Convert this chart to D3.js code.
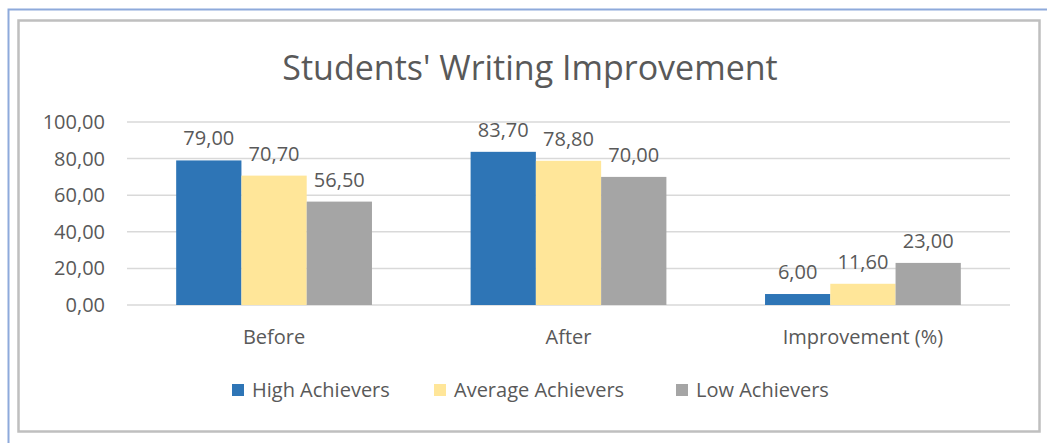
<!DOCTYPE html>
<meta charset="utf-8">
<style>
  body { margin: 0; background: #fff; }
  text { font-family: "Open Sans", sans-serif; fill: #595959; }
  .grid line { stroke: #d9d9d9; stroke-width: 1.5; }
  .axis .domain { display: none; }
  .axis .tick line { display: none; }
</style>
<svg width="1047" height="443"></svg>
<script src="https://d3js.org/d3.v7.min.js"></script>
<script>
  var categories = ["Before", "After", "Improvement (%)"];
  var seriesNames = ["High Achievers", "Average Achievers", "Low Achievers"];
  var highAchievers = [79.0, 83.7, 6.0];
  var averageAchievers = [70.7, 78.8, 11.6];
  var lowAchievers = [56.5, 70.0, 23.0];
  var yTicks = [0, 20, 40, 60, 80, 100];
  var colors = ["#2e75b6", "#ffe699", "#a5a5a5"];

  var series = [highAchievers, averageAchievers, lowAchievers];
  var fmt = function(v) { return v.toFixed(2).replace(".", ","); };

  var svg = d3.select("svg");

  // frames
  svg.append("path")
    .attr("d", "M8.5,443 V9.5 H1047")
    .attr("fill", "none")
    .attr("stroke", "#8eaadb")
    .attr("stroke-width", 2);
  svg.append("rect")
    .attr("x", 18.5).attr("y", 20.5)
    .attr("width", 1021).attr("height", 411)
    .attr("fill", "#fff")
    .attr("stroke", "#bfbfbf")
    .attr("stroke-width", 2.5);

  svg.append("text")
    .attr("x", 530).attr("y", 80)
    .attr("text-anchor", "middle")
    .style("font-size", "34px")
    .text("Students' Writing Improvement");

  var plotL = 127, plotR = 1010, plotT = 122, plotB = 305;

  var x = d3.scaleBand().domain(categories).range([plotL, plotR]).paddingInner(0.335).paddingOuter(0.167);
  var xs = d3.scaleBand().domain(d3.range(3)).range([0, x.bandwidth()]);
  var y = d3.scaleLinear().domain([0, 100]).range([plotB, plotT]);

  svg.append("g").attr("class", "grid")
    .selectAll("line").data(yTicks).join("line")
    .attr("x1", plotL).attr("x2", plotR)
    .attr("y1", function(d) { return y(d); })
    .attr("y2", function(d) { return y(d); });

  svg.append("g").attr("class", "axis")
    .attr("transform", "translate(" + (plotL - 22) + ",0)")
    .call(d3.axisLeft(y).tickValues(yTicks).tickFormat(fmt).tickSize(0).tickPadding(0))
    .selectAll("text")
    .style("font-size", "20px")
    .style("font-family", "'Open Sans', sans-serif")
    .style("fill", "#595959");

  svg.append("g").attr("class", "axis")
    .attr("transform", "translate(0," + (plotB + 25) + ")")
    .call(d3.axisBottom(x).tickSize(0).tickPadding(0))
    .selectAll("text")
    .style("font-size", "20px")
    .style("font-family", "'Open Sans', sans-serif")
    .style("fill", "#595959");

  var groups = svg.selectAll(".series").data(series).join("g")
    .attr("class", "series");

  groups.each(function(vals, si) {
    var g = d3.select(this);
    g.selectAll("rect").data(vals).join("rect")
      .attr("x", function(d, ci) { return x(categories[ci]) + xs(si); })
      .attr("y", function(d) { return y(d); })
      .attr("width", xs.bandwidth())
      .attr("height", function(d) { return plotB - y(d); })
      .attr("fill", colors[si]);
    g.selectAll("text").data(vals).join("text")
      .attr("x", function(d, ci) { return x(categories[ci]) + xs(si) + xs.bandwidth() / 2; })
      .attr("y", function(d) { return y(d) - 15; })
      .attr("text-anchor", "middle")
      .style("font-size", "20px")
      .text(fmt);
  });

  // legend
  var legendX = [232, 434, 676];
  var lg = svg.selectAll(".legend").data(seriesNames).join("g")
    .attr("class", "legend")
    .attr("transform", function(d, i) { return "translate(" + legendX[i] + ",390)"; });
  lg.append("rect")
    .attr("x", 0).attr("y", -6).attr("width", 12).attr("height", 12)
    .attr("fill", function(d, i) { return colors[i]; });
  lg.append("text")
    .attr("x", 20).attr("y", 7)
    .style("font-size", "20px")
    .text(function(d) { return d; });
</script>
